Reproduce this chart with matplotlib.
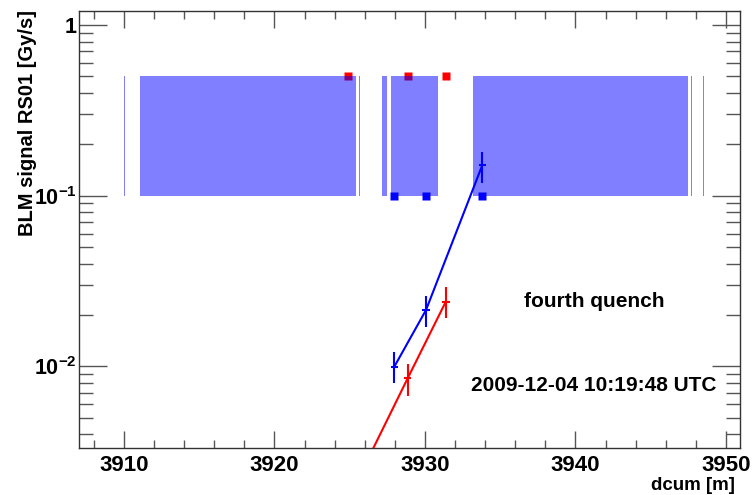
import matplotlib
matplotlib.use("Agg")
import matplotlib.pyplot as plt
import numpy as np
from matplotlib.ticker import LogLocator, MultipleLocator, NullFormatter, FixedLocator

plt.rcParams['font.family'] = ['Liberation Sans', 'DejaVu Sans']
plt.rcParams['mathtext.fontset'] = 'custom'
plt.rcParams['mathtext.rm'] = 'Liberation Sans:bold'
plt.rcParams['mathtext.bf'] = 'Liberation Sans:bold'

# shaded magnet regions (dcum start / end)
span_lo = [3909.99, 3910.77, 3911.08, 3925.60, 3927.16, 3927.74, 3933.21, 3947.69, 3948.46]
span_hi = [3910.05, 3910.82, 3925.40, 3925.66, 3927.46, 3930.88, 3947.50, 3947.75, 3948.52]
span_ymin, span_ymax = 0.1, 0.5

# BLM positions
red_pos = [3924.86, 3928.85, 3931.38]
blue_pos = [3927.96, 3930.07, 3933.81]

# signals
blue_y = [0.00995, 0.0214, 0.151]
blue_lo = [0.00795, 0.0171, 0.119]
blue_hi = [0.0121, 0.0258, 0.181]
red_y = [0.00164, 0.00851, 0.0239]
red_lo = [0.0013, 0.0067, 0.0191]
red_hi = [0.0020, 0.0103, 0.0292]

fig = plt.figure(figsize=(7.55, 4.95), dpi=100)
ax = fig.add_axes([0.105, 0.0943, 0.8755, 0.8835])

ax.plot(red_pos, [span_ymax] * 3, 's', color='red', ms=5.8, mec='none', zorder=1)
ax.plot(blue_pos, [span_ymin] * 3, 's', color='blue', ms=5.8, mec='none', zorder=3)

for lo, hi in zip(span_lo, span_hi):
    ax.fill_between([lo, hi], span_ymin, span_ymax, color='blue', alpha=0.5, lw=0, zorder=2)

for xs, ys, lo, hi, c in [(blue_pos, blue_y, blue_lo, blue_hi, 'blue'),
                          (red_pos, red_y, red_lo, red_hi, 'red')]:
    ys = np.array(ys)
    yerr = [ys - np.array(lo), np.array(hi) - ys]
    ax.errorbar(xs, ys, yerr=yerr, xerr=0.25, color=c, lw=1.5, elinewidth=1.5,
                capsize=0, zorder=4)

ax.set_yscale('log')
ax.set_xlim(3907.03, 3950.95)
ax.set_ylim(0.00331, 1.208)

ax.xaxis.set_major_locator(MultipleLocator(10))
ax.xaxis.set_minor_locator(MultipleLocator(2))
ax.yaxis.set_major_locator(FixedLocator([0.01, 0.1, 1]))
ax.yaxis.set_minor_locator(LogLocator(base=10, subs=np.arange(2, 10)))
ax.yaxis.set_minor_formatter(NullFormatter())
ax.set_yticklabels([r'$\mathbf{10^{-2}}$', r'$\mathbf{10^{-1}}$', '1'])
ax.tick_params(which='both', direction='in', top=True, right=True, color='#555555',
               width=1, pad=5)
ax.tick_params(axis='x', which='major', length=12, labelsize=16)
ax.tick_params(axis='x', which='minor', length=6)
ax.tick_params(axis='y', which='major', length=20, labelsize=15.5, pad=2)
ax.tick_params(axis='y', which='minor', length=10)
for lab in ax.get_xticklabels() + ax.get_yticklabels():
    lab.set_fontweight('bold')
for s in ax.spines.values():
    s.set_linewidth(1)
    s.set_color('#333333')

fig.text(0.787, 0.39, 'fourth quench', fontsize=15,
         fontweight='bold', ha='center', va='center')
fig.text(0.787, 0.222, '2009-12-04 10:19:48 UTC', fontsize=15,
         fontweight='bold', ha='center', va='center')
fig.text(0.974, 0.02, 'dcum [m]', fontsize=13.5, fontweight='bold', ha='right', va='center')
fig.text(0.036, 0.98, 'BLM signal RS01 [Gy/s]', fontsize=14.5, fontweight='bold',
         rotation=90, ha='center', va='top')

fig.savefig('out.png', dpi=100)
